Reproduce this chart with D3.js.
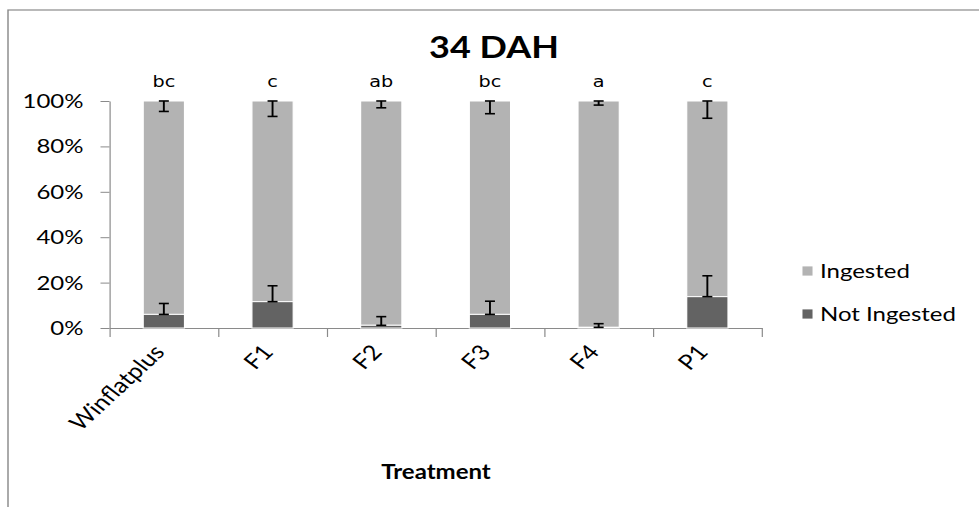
<!DOCTYPE html>
<html>
<head>
<meta charset="utf-8">
<script src="https://cdn.jsdelivr.net/npm/d3@7"></script>
<style>
  html, body { margin: 0; padding: 0; background: #fff; }
  svg { display: block; }
</style>
</head>
<body>
<div id="chart"></div>
<script>
// ---- data ----
const categories = ["Winflatplus", "F1", "F2", "F3", "F4", "P1"];
const notIngested = [6, 11.6, 1.2, 6, 0.3, 13.8];
const ingested = notIngested.map(v => 100 - v);
const errNotIngested = [4.8, 7, 3.8, 5.8, 1.6, 9.2];
const errIngested = [4.6, 6.8, 3, 5.6, 1.8, 7.6];
const letters = ["bc", "c", "ab", "bc", "a", "c"];
const yTicks = [0, 20, 40, 60, 80, 100];
const seriesNames = ["Ingested", "Not Ingested"];
const colors = { "Ingested": "#b3b3b3", "Not Ingested": "#636363" };

// ---- layout (the reference is horizontally stretched, so draw in compressed units) ----
const SX = 1.2;
const W = 979, H = 507;
const VW = W / SX;
const px = v => v / SX; // convert pixel x to view units

const svg = d3.select("#chart").append("svg")
  .attr("width", W).attr("height", H)
  .attr("viewBox", `0 0 ${VW} ${H}`)
  .attr("preserveAspectRatio", "none");

// outer chart border
svg.append("rect")
  .attr("x", px(8)).attr("y", 10)
  .attr("width", VW).attr("height", H)
  .attr("fill", "#fff").attr("stroke", "#8a8a8a").attr("stroke-width", 1.2);

const x = d3.scaleBand().domain(categories).range([px(109.5), px(761.7)]).padding(0);
const y = d3.scaleLinear().domain([0, 100]).range([328, 101]);
const barW = x.bandwidth() * 0.38;
const cx = c => x(c) + x.bandwidth() / 2;

// title
svg.append("text")
  .attr("x", px(494)).attr("y", 58)
  .attr("text-anchor", "middle")
  .attr("font-family", "Lato, 'Open Sans', sans-serif")
  .attr("font-weight", "bold").attr("font-size", 30)
  .attr("fill", "#000").text("34 DAH");

// y axis
const yAxis = svg.append("g")
  .attr("transform", `translate(${px(109.5)},0)`)
  .call(d3.axisLeft(y).tickValues(yTicks).tickFormat(d => d + "%")
    .tickSize(px(9)).tickSizeOuter(0).tickPadding(px(17)));
yAxis.select(".domain").attr("stroke", "#8a8a8a");
yAxis.selectAll(".tick line").attr("stroke", "#8a8a8a");
yAxis.selectAll(".tick text")
  .attr("font-family", "Lato, 'Open Sans', sans-serif")
  .attr("font-size", 20).attr("fill", "#000");

// x axis with ticks at category boundaries
const xb = d3.scaleLinear().domain([0, categories.length]).range(x.range());
const xAxis = svg.append("g")
  .attr("transform", `translate(0,${y(0)})`)
  .call(d3.axisBottom(xb).tickValues(d3.range(categories.length + 1))
    .tickFormat("").tickSize(9).tickSizeOuter(0));
xAxis.select(".domain").attr("stroke", "#8a8a8a");
xAxis.selectAll(".tick line").attr("stroke", "#8a8a8a");

// category labels
svg.append("g").selectAll("text").data(categories).join("text")
  .attr("transform", c => `translate(${cx(c) + px(2)},${y(0) + 25}) rotate(-48)`)
  .attr("text-anchor", "end")
  .attr("font-family", "Lato, 'Open Sans', sans-serif")
  .attr("font-size", 21).attr("fill", "#000")
  .text(c => c);

// bars
const rows = categories.map((c, i) => ({
  c, ni: notIngested[i], ing: ingested[i], eNi: errNotIngested[i], eIng: errIngested[i], letter: letters[i]
}));
const bars = svg.append("g");
bars.selectAll("rect.ing").data(rows).join("rect")
  .attr("class", "ing")
  .attr("x", d => cx(d.c) - barW / 2).attr("width", barW)
  .attr("y", d => y(d.ni + d.ing)).attr("height", d => y(d.ni) - y(d.ni + d.ing))
  .attr("fill", colors["Ingested"]).attr("stroke", "#fff").attr("stroke-width", 1);
bars.selectAll("rect.ni").data(rows).join("rect")
  .attr("class", "ni")
  .attr("x", d => cx(d.c) - barW / 2).attr("width", barW)
  .attr("y", d => y(d.ni)).attr("height", d => y(0) - y(d.ni))
  .attr("fill", colors["Not Ingested"]).attr("stroke", "#fff").attr("stroke-width", 1);

// error bars
const capW = px(10);
function errBar(g, xc, y1, y2) {
  g.append("line").attr("x1", xc).attr("x2", xc).attr("y1", y1).attr("y2", y2);
  g.append("line").attr("x1", xc - capW / 2).attr("x2", xc + capW / 2).attr("y1", y1).attr("y2", y1);
  g.append("line").attr("x1", xc - capW / 2).attr("x2", xc + capW / 2).attr("y1", y2).attr("y2", y2);
}
const eg = svg.append("g").attr("stroke", "#000").attr("stroke-width", 1.6);
rows.forEach(d => {
  errBar(eg, cx(d.c), y(d.ni), y(d.ni + d.eNi));
  errBar(eg, cx(d.c), y(100), y(100 - d.eIng));
});

// significance letters
svg.append("g").selectAll("text").data(rows).join("text")
  .attr("x", d => cx(d.c)).attr("y", 87)
  .attr("text-anchor", "middle")
  .attr("font-family", "'DejaVu Sans', sans-serif")
  .attr("font-size", 16).attr("fill", "#000")
  .text(d => d.letter);

// x axis title
svg.append("text")
  .attr("x", px(436)).attr("y", 479)
  .attr("text-anchor", "middle")
  .attr("font-family", "Lato, 'Open Sans', sans-serif")
  .attr("font-weight", "bold").attr("font-size", 20)
  .attr("fill", "#000").text("Treatment");

// legend
const legend = svg.append("g");
seriesNames.forEach((s, i) => {
  const ly = 271 + i * 43;
  legend.append("rect")
    .attr("x", px(802)).attr("y", ly - 5).attr("width", px(11)).attr("height", 10)
    .attr("fill", colors[s]).attr("stroke", "#fff").attr("stroke-width", 0.8);
  legend.append("text")
    .attr("x", px(820)).attr("y", ly + 7)
    .attr("font-family", "Lato, 'Open Sans', sans-serif")
    .attr("font-size", 20).attr("fill", "#000")
    .text(s);
});
</script>
</body>
</html>
